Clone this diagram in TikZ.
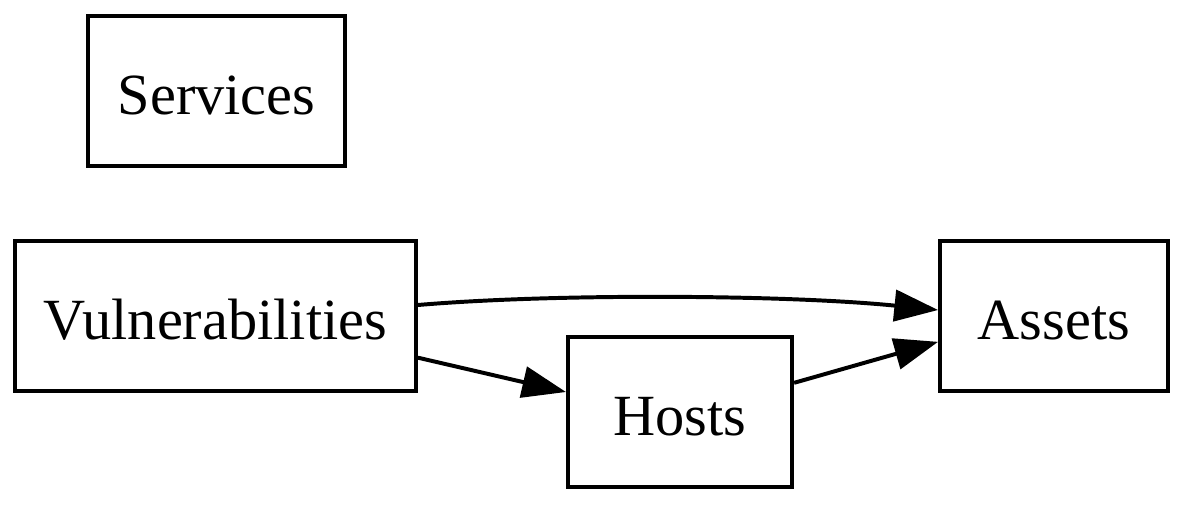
\documentclass[tikz,border=0pt]{standalone}
\usepackage{fontspec}
\setmainfont{Liberation Serif}
\usetikzlibrary{arrows.meta}
\begin{document}
\begin{tikzpicture}[x=0.24pt,y=-0.24pt,
  box/.style={draw,line width=0.95pt,minimum height=36pt,inner sep=0pt,text height=11.5pt,text depth=0pt,font=\fontsize{14pt}{16pt}\selectfont},
  arr/.style={line width=0.95pt,-{Triangle[length=10.5pt,width=7.5pt]}}]
\useasboundingbox (0,0) rectangle (1184,504);
\node[box,minimum width=61.7pt] (s) at (216.5,91) {Services};
\node[box,minimum width=96.2pt] (v) at (215.5,316) {Vulnerabilities};
\node[box,minimum width=53.8pt] (h) at (680,412) {Hosts};
\node[box,minimum width=54.7pt] (a) at (1054,316) {Assets};
\draw[arr] ([yshift=2.64pt]v.east) .. controls (560,293) and (790,295) .. ([yshift=1.44pt]a.west);
\draw[arr] ([yshift=-10pt]v.east) -- ([yshift=4.8pt]h.west);
\draw[arr] ([yshift=7pt]h.east) -- ([yshift=-6.2pt]a.west);
\end{tikzpicture}
\end{document}
